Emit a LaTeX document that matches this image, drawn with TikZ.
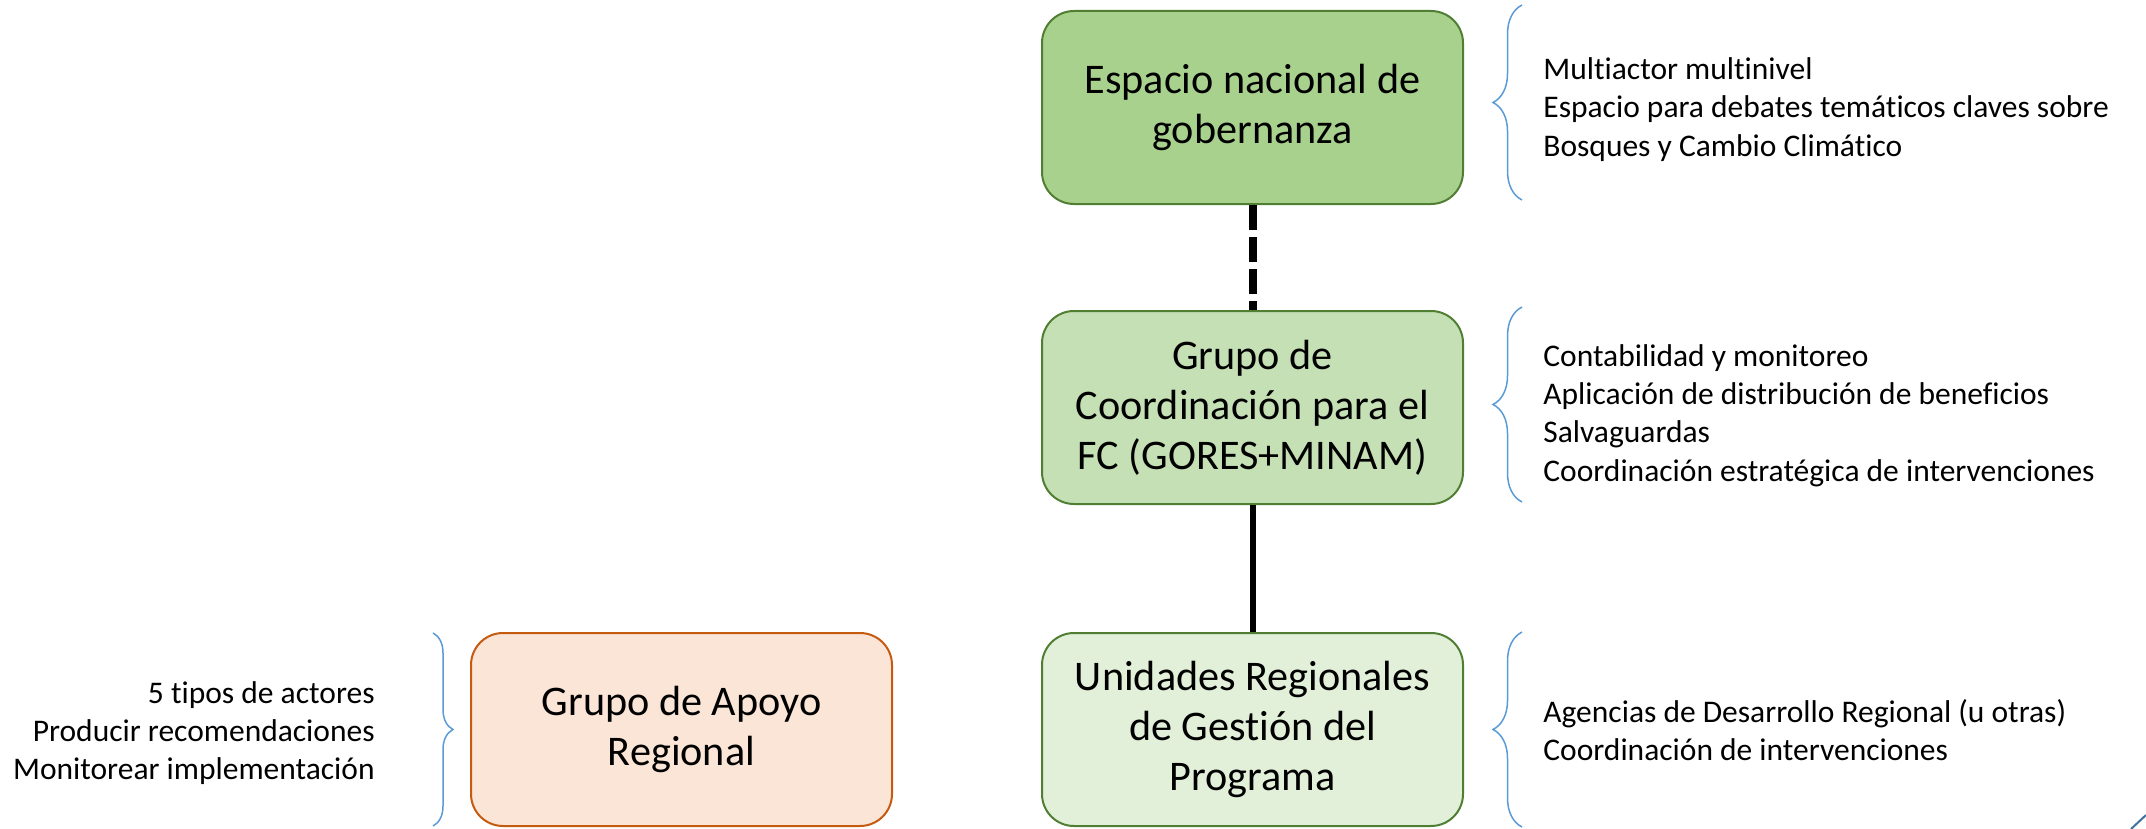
\documentclass[tikz,border=0pt]{standalone}
\usepackage{fontspec}
\setmainfont{Carlito}[Ligatures=NoCommon]
\usetikzlibrary{positioning,decorations.pathreplacing}

\definecolor{greenA}{HTML}{A9D18E}
\definecolor{greenB}{HTML}{C5E0B4}
\definecolor{greenC}{HTML}{E2F0D9}
\definecolor{greenline}{HTML}{507E32}
\definecolor{orangefill}{HTML}{FBE5D6}
\definecolor{orangeline}{HTML}{C55A11}
\definecolor{bracecol}{HTML}{5B9BD5}
\definecolor{markcol}{HTML}{41719C}

\tikzset{
    level/.style={draw=greenline, line width=1pt, rounded corners=16pt,
        minimum width=210.5pt, minimum height=96.5pt, align=center, inner sep=0pt,
        font=\fontsize{21.1}{25}\selectfont},
    note/.style={align=left, inner sep=0pt, font=\fontsize{15.75}{19.15}\selectfont},
    curly/.style={draw=bracecol, line width=0.75pt, decorate,
        decoration={brace, amplitude=#1}},
}

\begin{document}
\begin{tikzpicture}[x=0.5pt, y=-0.5pt]
        \useasboundingbox (0,0) rectangle (2146,829);

        % Levels
        \node[level, fill=greenA] (espacio) at (1252.5,107.5) {Espacio nacional de\\gobernanza};
        \node[level, fill=greenB, below=52.5pt of espacio] (grupo) {Grupo de\\Coordinación para el\\FC (GORES+MINAM)};
        \node[level, fill=greenC, below=63.5pt of grupo] (unidades) {Unidades Regionales\\de Gestión del\\Programa};
        \node[level, draw=orangeline, fill=orangefill, left=74pt of unidades] (apoyo) {Grupo de Apoyo\\Regional};

        % Links
        \draw[line width=4pt, dash pattern=on 12.5pt off 3.5pt] (espacio) -- (grupo);
        \draw[line width=3pt] (grupo) -- (unidades);

        % Braces
        \draw[curly=14.5pt] (1522,200) -- (1522,5);
        \draw[curly=14.5pt] (1522,502) -- (1522,307);
        \draw[curly=14.5pt] (1522,827) -- (1522,632);
        \draw[curly=10pt] (433,633) -- (433,826);

        % Notes
        \node[note, anchor=west] (notaespacio) at (1543,109.5) {Multiactor multinivel\\Espacio para debates temáticos claves sobre\\Bosques y Cambio Climático};
        \node[note, anchor=west] (notagrupo) at (1543,415.5) {Contabilidad y monitoreo\\Aplicación de distribución de beneficios\\Salvaguardas\\Coordinación estratégica de intervenciones};
        \node[note, anchor=west] (notaunidades) at (1543,730) {Agencias de Desarrollo Regional (u otras)\\Coordinación de intervenciones};
        \node[note, anchor=east, align=right] (notaapoyo) at (375,733) {5 tipos de actores\\Producir recomendaciones\\Monitorear implementación};

        % Corner mark
        \draw[markcol, line width=1pt] (2131,829) -- (2146,815);
\end{tikzpicture}
\end{document}
